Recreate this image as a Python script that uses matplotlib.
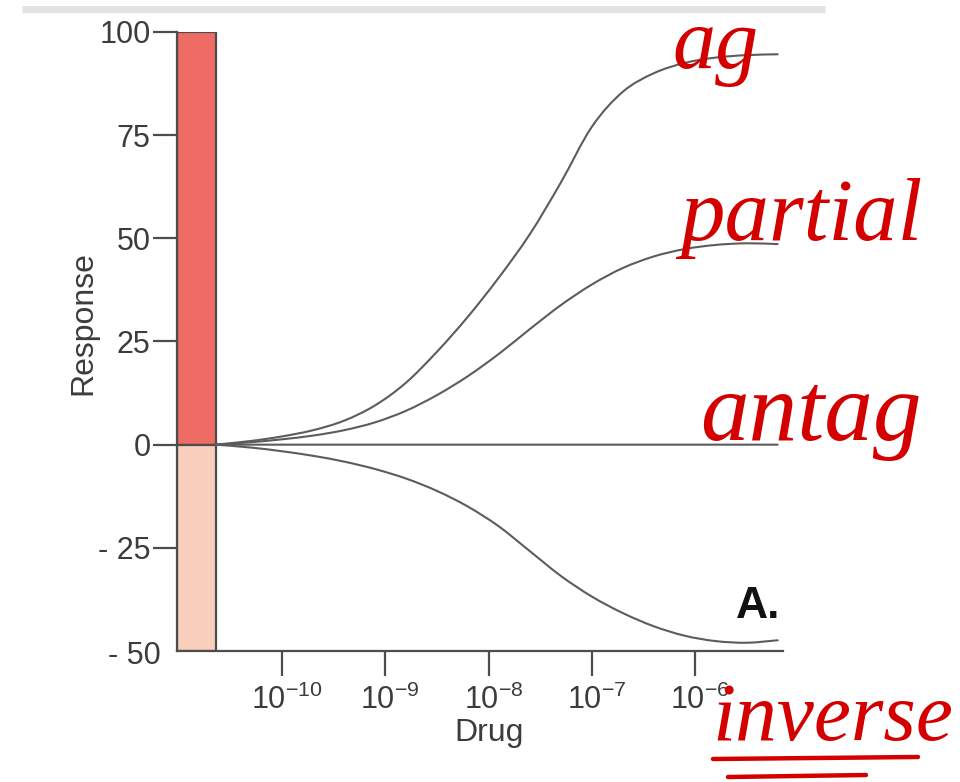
import numpy as np
import matplotlib
matplotlib.use("Agg")
import matplotlib.pyplot as plt
from matplotlib.lines import Line2D
from matplotlib.path import Path
from matplotlib.patches import PathPatch
from matplotlib.ticker import NullLocator
from matplotlib.transforms import ScaledTranslation

plt.rcParams["font.family"] = ["Liberation Sans", "DejaVu Sans"]
plt.rcParams["mathtext.fontset"] = "custom"
plt.rcParams["mathtext.rm"] = "Liberation Sans"
plt.rcParams["mathtext.it"] = "Liberation Sans"

# log10 of drug concentration (M) at which each curve is sampled
log_conc = [-10.64, -10.3, -10.0, -9.7, -9.4, -9.1, -8.8, -8.5, -8.2, -7.9,
            -7.6, -7.3, -7.0, -6.7, -6.4, -6.1, -5.8, -5.5, -5.2]

agonist = [0, 0.9, 2.0, 3.5, 5.8, 9.5, 15, 22.5, 31, 40.5,
           51, 63.5, 77, 85.5, 90, 92.5, 93.8, 94.4, 94.6]
partial_agonist = [0, 0.6, 1.3, 2.2, 3.5, 5.4, 8.2, 12, 16.6, 22,
                   28, 33.8, 38.8, 42.8, 45.6, 47.4, 48.4, 48.8, 48.6]
antagonist = [0] * len(log_conc)
inverse_agonist = [0, -0.7, -1.6, -2.7, -4.1, -5.9, -8.2, -11.2, -15.0, -19.8,
                   -25.8, -31.8, -36.8, -40.8, -44.0, -46.3, -47.6, -48.0, -47.4]

# response range bar: full agonist (top) and full inverse agonist (bottom)
range_values = [100, -50]
range_colors = ["#ee6c64", "#f8cfbd"]

y_ticks = [-50, -25, 0, 25, 50, 75, 100]
y_tick_labels = ["- 50", "- 25", "0", "25", "50", "75", "100"]
x_tick_exponents = [-10, -9, -8, -7, -6]


def smooth_path(xs, ys):
    """Catmull-Rom curve through the points, as cubic Bezier segments
    built in log10(x) space and mapped back to concentration."""
    pts = np.column_stack([np.asarray(xs, float), np.asarray(ys, float)])
    n = len(pts)
    verts = [pts[0]]
    codes = [Path.MOVETO]
    for i in range(n - 1):
        p0 = pts[i - 1] if i > 0 else pts[i]
        p1, p2 = pts[i], pts[i + 1]
        p3 = pts[i + 2] if i + 2 < n else pts[i + 1]
        verts += [p1 + (p2 - p0) / 6.0, p2 - (p3 - p1) / 6.0, p2]
        codes += [Path.CURVE4] * 3
    verts = np.array(verts)
    verts[:, 0] = 10 ** verts[:, 0]
    return Path(verts, codes)


W, H = 960, 782
fig = plt.figure(figsize=(W / 100, H / 100), dpi=100)
fig.patch.set_facecolor("white")

# light grey strip along the top edge
fig.add_artist(Line2D([22 / W, 825 / W], [1 - 9 / H, 1 - 9 / H],
                      color="#e2e2e2", lw=5, solid_capstyle="butt"))

ax_left, ax_right, ax_top, ax_bottom = 177, 783, 32, 651
ax = fig.add_axes([ax_left / W, 1 - ax_bottom / H,
                   (ax_right - ax_left) / W, (ax_bottom - ax_top) / H])
ax.set_xscale("log")
ax.set_xlim(10 ** -11.017, 10 ** -5.148)
ax.set_ylim(-50, 100)

edge = "#4d4d4d"
bar_left, bar_right = 10 ** -11.017, 10 ** -10.639
for val, col in zip(range_values, range_colors):
    ax.bar(bar_left, val, width=bar_right - bar_left, align="edge",
           color=col, edgecolor=edge, linewidth=1.6, zorder=2)

line_col = "#5c5c5c"
for series in (agonist, partial_agonist, antagonist, inverse_agonist):
    ax.add_patch(PathPatch(smooth_path(log_conc, series), facecolor="none",
                           edgecolor=line_col, lw=1.5, zorder=3,
                           capstyle="round", joinstyle="round"))

for side in ("top", "right"):
    ax.spines[side].set_visible(False)
for side in ("left", "bottom"):
    ax.spines[side].set_color(edge)
    ax.spines[side].set_linewidth(1.6)

ax.set_yticks(y_ticks)
ax.set_yticklabels(y_tick_labels)
ax.set_xticks([10.0 ** e for e in x_tick_exponents])
ax.set_xticklabels([r"$\mathregular{10^{%d}}$" % e for e in x_tick_exponents])
ax.xaxis.set_minor_locator(NullLocator())
ax.tick_params(axis="y", length=17, width=1.6, color=edge, pad=2,
               labelsize=22, labelcolor="#3c3c3c")
ax.tick_params(axis="x", length=18, width=1.6, color=edge, pad=6,
               labelsize=22, labelcolor="#3c3c3c")

# the bottom label sits at the corner, in place of its tick mark
bottom_tick = ax.yaxis.get_major_ticks()[0]
bottom_tick.tick1line.set_visible(False)
lab = bottom_tick.label1
lab.set_transform(lab.get_transform() + ScaledTranslation(0.10, -0.02, fig.dpi_scale_trans))
for t in ax.xaxis.get_major_ticks():
    t.label1.set_transform(t.label1.get_transform()
                           + ScaledTranslation(0.05, 0, fig.dpi_scale_trans))

ax.set_ylabel("Response", fontsize=23, color="#3c3c3c")
ax.yaxis.set_label_coords(-0.13, 0.53)
ax.set_xlabel("Drug", fontsize=23, color="#3c3c3c")
ax.xaxis.set_label_coords(0.515, -0.108)

fig.text(758 / W, 1 - 606 / H, "A.", fontsize=32, color="#111111",
         fontweight="bold", ha="center", va="center")

# red handwritten notes
red = "#d40000"
note = dict(color=red, family="Liberation Serif", style="italic",
            ha="left", va="baseline")
fig.text(672 / W, 1 - 68 / H, "ag", fontsize=62, **note)
fig.text(680 / W, 1 - 240 / H, "partial", fontsize=64, **note)
fig.text(700 / W, 1 - 440 / H, "antag", fontsize=70, **note)
fig.text(712 / W, 1 - 740 / H, "inverse", fontsize=60, **note)
fig.add_artist(Line2D([713 / W, 918 / W], [1 - 759 / H, 1 - 757 / H],
                      color=red, lw=3.2, solid_capstyle="round"))
fig.add_artist(Line2D([728 / W, 866 / W], [1 - 777 / H, 1 - 775 / H],
                      color=red, lw=3.2, solid_capstyle="round"))

fig.savefig("out.png", dpi=100, facecolor="white")
